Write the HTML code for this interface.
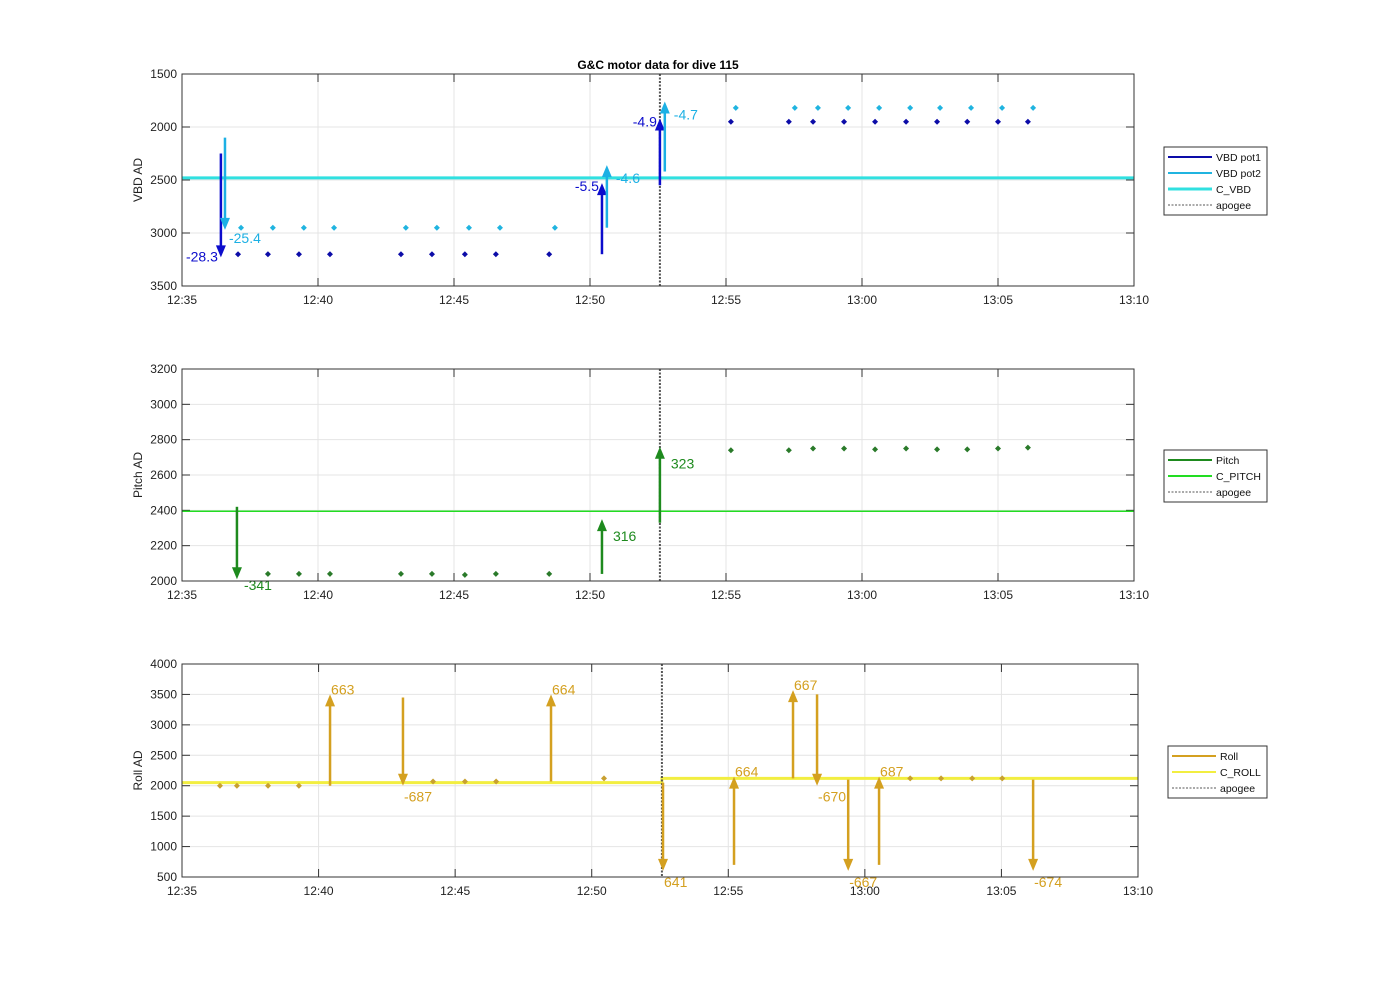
<!DOCTYPE html>
<html><head><meta charset="utf-8"><style>
html,body{margin:0;padding:0;background:#fff;}
svg{display:block;font-family:"Liberation Sans",Arial,sans-serif;}
</style></head><body>
<svg id="chart" width="1400" height="986" viewBox="0 0 1400 986" xmlns="http://www.w3.org/2000/svg">
<rect width="1400" height="986" fill="#fff"/>
<text x="658" y="69" font-size="12" font-weight="bold" text-anchor="middle">G&amp;C motor data for dive 115</text>
</svg>
<script>
// time in minutes after 12:35
const xTickLabels = ["12:35","12:40","12:45","12:50","12:55","13:00","13:05","13:10"];
const apogeeT = 17.57;
// VBD panel
const vbdTicks = [1500,2000,2500,3000,3500];
const pot1T = [2.06,3.16,4.3,5.44,8.05,9.19,10.4,11.54,13.5,20.18,22.31,23.2,24.34,25.48,26.62,27.76,28.87,30.0,31.1];
const pot1V = [3200,3200,3200,3200,3200,3200,3200,3200,3200,1950,1950,1950,1950,1950,1950,1950,1950,1950,1950];
const pot2T = [2.17,3.34,4.48,5.59,8.23,9.37,10.55,11.69,13.71,20.36,22.53,23.38,24.49,25.63,26.77,27.87,29.01,30.15,31.29];
const pot2V = [2950,2950,2950,2950,2950,2950,2950,2950,2950,1820,1820,1820,1820,1820,1820,1820,1820,1820,1820];
const cVbd = 2480;
const pot1ArrT = [1.43,15.44,17.57]; const pot1ArrFrom=[2250,3200,2550]; const pot1ArrTo=[3230,2530,1920]; const pot1ArrLbl=["-28.3","-5.5","-4.9"];
const pot2ArrT = [1.58,15.62,17.75]; const pot2ArrFrom=[2100,2950,2420]; const pot2ArrTo=[2970,2360,1760]; const pot2ArrLbl=["-25.4","-4.6","-4.7"];
// Pitch panel
const pitchTicks = [2000,2200,2400,2600,2800,3000,3200];
const pitchT = [3.16,4.3,5.44,8.05,9.19,10.4,11.54,13.5,20.18,22.31,23.2,24.34,25.48,26.62,27.76,28.87,30.0,31.1];
const pitchV = [2040,2040,2040,2040,2040,2035,2040,2040,2740,2740,2750,2750,2745,2750,2745,2745,2750,2755];
const cPitch = 2395;
const pitchArrT=[2.02,15.44,17.57]; const pitchArrFrom=[2420,2040,2330]; const pitchArrTo=[2010,2350,2760]; const pitchArrLbl=["-341","316","323"];
// Roll panel
const rollTicks = [500,1000,1500,2000,2500,3000,3500,4000];
const rollT = [1.39,2.01,3.15,4.28,9.19,10.36,11.5,15.45,26.66,27.79,28.93,30.03];
const rollV = [2000,2000,2000,2000,2070,2070,2070,2120,2120,2120,2120,2120];
const cRollT = [0,17.57,17.57,35]; const cRollV=[2050,2050,2120,2120];
const rollArrT=[5.42,8.09,13.51,17.61,20.21,22.37,23.25,24.39,25.52,31.16];
const rollArrFrom=[2000,3450,2070,2050,700,2120,3500,2100,700,2100];
const rollArrTo=[3500,2000,3500,600,2150,3570,2000,600,2150,600];
const rollArrLbl=["663","-687","664","641","664","667","-670","-667","687","-674"];

const NS="http://www.w3.org/2000/svg";
const svg=document.getElementById('chart');
function mk(tag,attrs,parent){const e=document.createElementNS(NS,tag);for(const k in attrs)e.setAttribute(k,attrs[k]);(parent||svg).appendChild(e);return e;}

function panel(cfg){
  const {x0,x1,y0,y1,vmin,vmax,rev,ticks,ylabel,name}=cfg;
  const g=mk('g',{});
  
  
  const X=t=>x0+(t/35)*(x1-x0);
  const Y=v=>rev? y0+(v-vmin)/(vmax-vmin)*(y1-y0) : y1-(v-vmin)/(vmax-vmin)*(y1-y0);
  mk('rect',{x:x0,y:y0,width:x1-x0,height:y1-y0,fill:'#fff'},g);
  for(let i=0;i<xTickLabels.length;i++){
    const xx=X(i*5);
    const gl=mk('line',{x1:xx,x2:xx,y1:y0,y2:y1,stroke:'#e4e4e4','stroke-width':1},g);
    
    
    mk('line',{x1:xx,x2:xx,y1:y1,y2:y1-8,stroke:'#333'},g);
    mk('line',{x1:xx,x2:xx,y1:y0,y2:y0+8,stroke:'#333'},g);
    const t=mk('text',{x:xx,y:y1+18,'font-size':12,'text-anchor':'middle',fill:'#222'},g);
    
    
    t.textContent=xTickLabels[i];
  }
  ticks.forEach(v=>{
    const yy=Y(v);
    const gl=mk('line',{x1:x0,x2:x1,y1:yy,y2:yy,stroke:'#e4e4e4','stroke-width':1},g);
    
    
    mk('line',{x1:x0,x2:x0+8,y1:yy,y2:yy,stroke:'#333'},g);
    mk('line',{x1:x1,x2:x1-8,y1:yy,y2:yy,stroke:'#333'},g);
    const t=mk('text',{x:x0-5,y:yy+4,'font-size':12,'text-anchor':'end',fill:'#222'},g);
    
    
    t.textContent=v;
  });
  const yl=mk('text',{x:0,y:0,'font-size':12,'text-anchor':'middle',fill:'#222',transform:`translate(${x0-40},${(y0+y1)/2}) rotate(-90)`},g);
  
  
  yl.textContent=ylabel;
  return {g,X,Y,x0,x1,y0,y1};
}
function frame(p){mk('rect',{x:p.x0,y:p.y0,width:p.x1-p.x0,height:p.y1-p.y0,fill:'none',stroke:'#333','stroke-width':1},p.g);}
function apogee(p){
  const l=mk('line',{x1:p.X(apogeeT),x2:p.X(apogeeT),y1:p.y0,y2:p.y1,stroke:'#555','stroke-width':2,'stroke-dasharray':'2,1.5'},p.g);
  
  
}
function dots(p,T,V,color,nm){
  for(let i=0;i<T.length;i++){
    const d=mk('path',{d:`M${p.X(T[i])},${p.Y(V[i])-3}l3,3l-3,3l-3,-3z`,fill:color},p.g);
    
    
  }
}
function arrows(p,T,F,To,L,color,nm,lblSide,fs){
  for(let i=0;i<T.length;i++){
    const x=p.X(T[i]),ya=p.Y(F[i]),yb=p.Y(To[i]);
    const dir=yb<ya?-1:1;
    const a=mk('g',{},p.g);
    
    
    mk('line',{x1:x,x2:x,y1:ya,y2:yb-dir*10,stroke:color,'stroke-width':2.5},a);
    mk('path',{d:`M${x},${yb}L${x-5},${yb-dir*12}L${x+5},${yb-dir*12}z`,fill:color},a);
    const side=lblSide(i,dir);
    const t=mk('text',{x:x+side.dx,y:yb+side.dy,'font-size':fs,fill:color,'text-anchor':side.anchor},a);
    t.textContent=L[i];
  }
}
function legend(x,y,w,items,nm){
  const g=mk('g',{});
  
  
  mk('rect',{x,y,width:w,height:items.length*16+4,fill:'#fff',stroke:'#333'},g);
  items.forEach((it,i)=>{
    const yy=y+10+i*16;
    const e=mk('g',{},g);
    
    
    mk('line',{x1:x+4,x2:x+48,y1:yy,y2:yy,stroke:it.c,'stroke-width':it.w,'stroke-dasharray':it.d||'none'},e);
    const t=mk('text',{x:x+52,y:yy+4,'font-size':10.5,fill:'#111'},e);
    t.textContent=it.n;
  });
}

// Panel 1
const p1=panel({x0:182,x1:1134,y0:74,y1:286,vmin:1500,vmax:3500,rev:true,ticks:vbdTicks,ylabel:'VBD AD',name:'vbd'});
const cv=mk('line',{x1:p1.x0,x2:p1.x1,y1:p1.Y(cVbd),y2:p1.Y(cVbd),stroke:'#30e0e0','stroke-width':3},p1.g);


apogee(p1);
dots(p1,pot1T,pot1V,'#0c0ca8','vbd-pot1-point');
dots(p1,pot2T,pot2V,'#20b4e0','vbd-pot2-point');
arrows(p1,pot1ArrT,pot1ArrFrom,pot1ArrTo,pot1ArrLbl,'#0c0ccc','vbd-pot1-arrow',(i,d)=>({dx:-3,dy:d>0?4:8,anchor:'end'}),14);
arrows(p1,pot2ArrT,pot2ArrFrom,pot2ArrTo,pot2ArrLbl,'#1cb0e4','vbd-pot2-arrow',(i,d)=>d>0?{dx:4,dy:13,anchor:'start'}:{dx:9,dy:18,anchor:'start'},14);
frame(p1);
legend(1164,147,103,[{n:'VBD pot1',c:'#0c0ca8',w:2},{n:'VBD pot2',c:'#20b4e0',w:2},{n:'C_VBD',c:'#30e0e0',w:3},{n:'apogee',c:'#555',w:1,d:'2,1.5'}],'vbd-legend');

// Panel 2
const p2=panel({x0:182,x1:1134,y0:369,y1:581,vmin:2000,vmax:3200,rev:false,ticks:pitchTicks,ylabel:'Pitch AD',name:'pitch'});
const cp=mk('line',{x1:p2.x0,x2:p2.x1,y1:p2.Y(cPitch),y2:p2.Y(cPitch),stroke:'#22dd22','stroke-width':1.5},p2.g);


apogee(p2);
dots(p2,pitchT,pitchV,'#2a7a2a','pitch-point');
arrows(p2,pitchArrT,pitchArrFrom,pitchArrTo,pitchArrLbl,'#1e8a1e','pitch-arrow',(i,d)=>d>0?{dx:7,dy:11,anchor:'start'}:{dx:11,dy:22,anchor:'start'},14);
frame(p2);
legend(1164,450,103,[{n:'Pitch',c:'#1e8a1e',w:2},{n:'C_PITCH',c:'#22dd22',w:2},{n:'apogee',c:'#555',w:1,d:'2,1.5'}],'pitch-legend');

// Panel 3
const p3=panel({x0:182,x1:1138,y0:664,y1:877,vmin:500,vmax:4000,rev:false,ticks:rollTicks,ylabel:'Roll AD',name:'roll'});
let dstr='';
for(let i=0;i<cRollT.length;i++) dstr+=(i?'L':'M')+p3.X(cRollT[i])+','+p3.Y(cRollV[i]);
const cr=mk('path',{d:dstr,fill:'none',stroke:'#f2ee40','stroke-width':3},p3.g);


apogee(p3);
dots(p3,rollT,rollV,'#c8a030','roll-point');
arrows(p3,rollArrT,rollArrFrom,rollArrTo,rollArrLbl,'#d4a020','roll-arrow',(i,d)=>d>0?{dx:1,dy:16,anchor:'start'}:{dx:1,dy:0,anchor:'start'},14);
frame(p3);
legend(1168,746,99,[{n:'Roll',c:'#d4a020',w:2},{n:'C_ROLL',c:'#f2ee40',w:2},{n:'apogee',c:'#555',w:1,d:'2,1.5'}],'roll-legend');
</script>
</body></html>
